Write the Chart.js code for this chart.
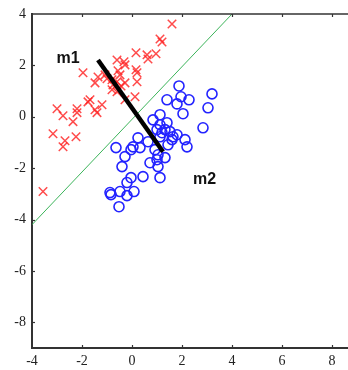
<!DOCTYPE html>
<html>
<head>
<meta charset="utf-8">
<script src="https://cdn.jsdelivr.net/npm/chart.js@4/dist/chart.umd.min.js"></script>
<style>
html,body{margin:0;padding:0;background:#fff;}
#wrap{width:348px;height:370px;}
</style>
</head>
<body>
<div id="wrap"><canvas id="c" width="348" height="370"></canvas></div>
<script>
// Class 1 (red crosses)
const class1X = [1.60,1.12,1.20,0.16,0.60,0.64,0.96,-0.60,-0.32,-0.28,0.16,0.20,-0.56,-0.48,-1.96,-1.36,-1.08,-1.00,-0.80,-0.60,-0.76,-1.48,-0.44,-0.28,0.20,0.12,-0.28,-0.60,-0.80,-1.68,-1.76,-1.20,-1.48,-1.40,-3.00,-2.76,-2.20,-2.20,-2.36,-3.56,-2.76,-3.16,-2.68,-2.24];
const class1Y = [3.61,3.03,2.91,2.49,2.41,2.25,2.45,2.21,2.14,2.02,1.83,1.71,1.79,1.63,1.71,1.55,1.63,1.48,1.44,1.36,1.24,1.32,1.20,1.32,1.36,0.78,0.66,0.97,1.05,0.66,0.58,0.47,0.27,0.16,0.31,0.04,0.31,0.16,-0.19,-2.91,-1.17,-0.66,-0.93,-0.78];
// Class 2 (blue circles)
const class2X = [1.88,3.20,1.40,1.96,2.28,1.80,3.04,2.04,1.12,0.84,1.40,1.12,1.00,1.32,1.52,1.20,1.64,1.80,1.60,2.12,2.20,2.84,0.24,0.64,0.04,-0.04,0.32,-0.64,0.92,1.04,1.32,-0.28,-0.40,0.72,1.04,1.00,1.12,0.44,-0.04,-0.20,0.08,-0.88,-0.84,-0.48,-0.20,-0.52,1.12,1.44];
const class2Y = [1.20,0.89,0.66,0.78,0.66,0.50,0.35,0.12,0.08,-0.12,-0.23,-0.31,-0.50,-0.50,-0.58,-0.62,-0.78,-0.70,-0.89,-0.89,-1.17,-0.43,-0.82,-0.97,-1.17,-1.28,-1.20,-1.20,-1.28,-1.48,-1.59,-1.55,-1.94,-1.79,-1.94,-1.67,-2.37,-2.33,-2.37,-2.56,-2.91,-2.95,-3.03,-2.91,-3.07,-3.50,-0.78,-1.09];
// Decision boundary (green)
const boundaryX = [-4, 4];
const boundaryY = [-4.2, 4];
// Line joining the means (black)
const meanLineX = [-1.36, 1.24];
const meanLineY = [2.21, -1.36];
// Annotations
const labelTexts = ['m1', 'm2'];
const labelX = [-2.56, 2.90];
const labelY = [2.25, -2.45];
// Axis ticks
const xTicks = [-4, -2, 0, 2, 4, 6, 8];
const yTicks = [-8, -6, -4, -2, 0, 2, 4];

const pts = (xs, ys) => xs.map((x, i) => ({x: x, y: ys[i]}));

const axisColor = '#333';
const tickFont = {family: 'Liberation Serif', size: 14};

const framePlugin = {
  id: 'frame',
  afterDraw(chart) {
    const ctx = chart.ctx, a = chart.chartArea;
    const xs = chart.scales.x, ys = chart.scales.y;
    ctx.save();
    ctx.strokeStyle = axisColor;
    ctx.lineWidth = 1.5;
    // top border
    ctx.beginPath();
    ctx.moveTo(a.left, a.top);
    ctx.lineTo(a.right, a.top);
    ctx.stroke();
    ctx.lineWidth = 1.2;
    // inward ticks
    xTicks.forEach(v => {
      const px = Math.round(xs.getPixelForValue(v)) + 0.5;
      if (v === xTicks[0]) return;
      ctx.beginPath(); ctx.moveTo(px, a.bottom); ctx.lineTo(px, a.bottom - 3); ctx.stroke();
      ctx.beginPath(); ctx.moveTo(px, a.top); ctx.lineTo(px, a.top + 3); ctx.stroke();
    });
    yTicks.forEach(v => {
      const py = Math.round(ys.getPixelForValue(v)) + 0.5;
      if (v === yTicks[yTicks.length - 1]) return;
      ctx.beginPath(); ctx.moveTo(a.left, py); ctx.lineTo(a.left + 3, py); ctx.stroke();
    });
    // text labels
    ctx.fillStyle = '#111';
    ctx.font = 'bold 16px "Liberation Sans", Arial, sans-serif';
    ctx.textAlign = 'center';
    ctx.textBaseline = 'middle';
    labelTexts.forEach((t, i) => {
      ctx.fillText(t, xs.getPixelForValue(labelX[i]), ys.getPixelForValue(labelY[i]));
    });
    ctx.restore();
  }
};

new Chart(document.getElementById('c'), {
  type: 'scatter',
  data: {
    datasets: [
      {
        type: 'line', data: pts(meanLineX, meanLineY), borderColor: '#000', borderWidth: 4.5,
        pointRadius: 0, fill: false, order: 0, borderCapStyle: 'butt'
      },
      {
        type: 'line', data: pts(boundaryX, boundaryY), borderColor: 'rgb(60,180,90)', borderWidth: 1,
        pointRadius: 0, fill: false, order: 1
      },
      {
        data: pts(class1X, class1Y), pointStyle: 'crossRot', pointRadius: 6,
        borderColor: 'rgba(255,30,30,0.8)', backgroundColor: 'rgba(255,30,30,0.8)', borderWidth: 1.5, order: 3
      },
      {
        data: pts(class2X, class2Y), pointStyle: 'circle', pointRadius: 5,
        borderColor: 'rgb(35,35,255)', backgroundColor: 'rgba(0,0,0,0)', borderWidth: 1.6, order: 2
      }
    ]
  },
  options: {
    responsive: false,
    animation: false,
    layout: {autoPadding: false, padding: {top: 14, right: 0, left: 0, bottom: 0}},
    plugins: {legend: {display: false}, tooltip: {enabled: false}},
    scales: {
      x: {
        type: 'linear', min: -4, max: 8.64,
        afterBuildTicks: s => { s.ticks = xTicks.map(v => ({value: v})); },
        afterFit: s => { s.height = 22; s.paddingRight = 0; s.paddingLeft = 0; },
        grid: {display: false, drawTicks: false},
        border: {display: true, color: axisColor, width: 2},
        ticks: {padding: 5, color: '#222', font: tickFont, maxRotation: 0, autoSkip: false,
          callback: v => String(v)}
      },
      y: {
        type: 'linear', min: -9, max: 4,
        afterBuildTicks: s => { s.ticks = yTicks.map(v => ({value: v})); },
        afterFit: s => { s.width = 32; s.paddingTop = 0; s.paddingBottom = 0; },
        grid: {display: false, drawTicks: false},
        border: {display: true, color: axisColor, width: 2},
        ticks: {padding: 6, color: '#222', font: tickFont, autoSkip: false,
          callback: v => String(v)}
      }
    }
  },
  plugins: [framePlugin]
});
</script>
</body>
</html>
